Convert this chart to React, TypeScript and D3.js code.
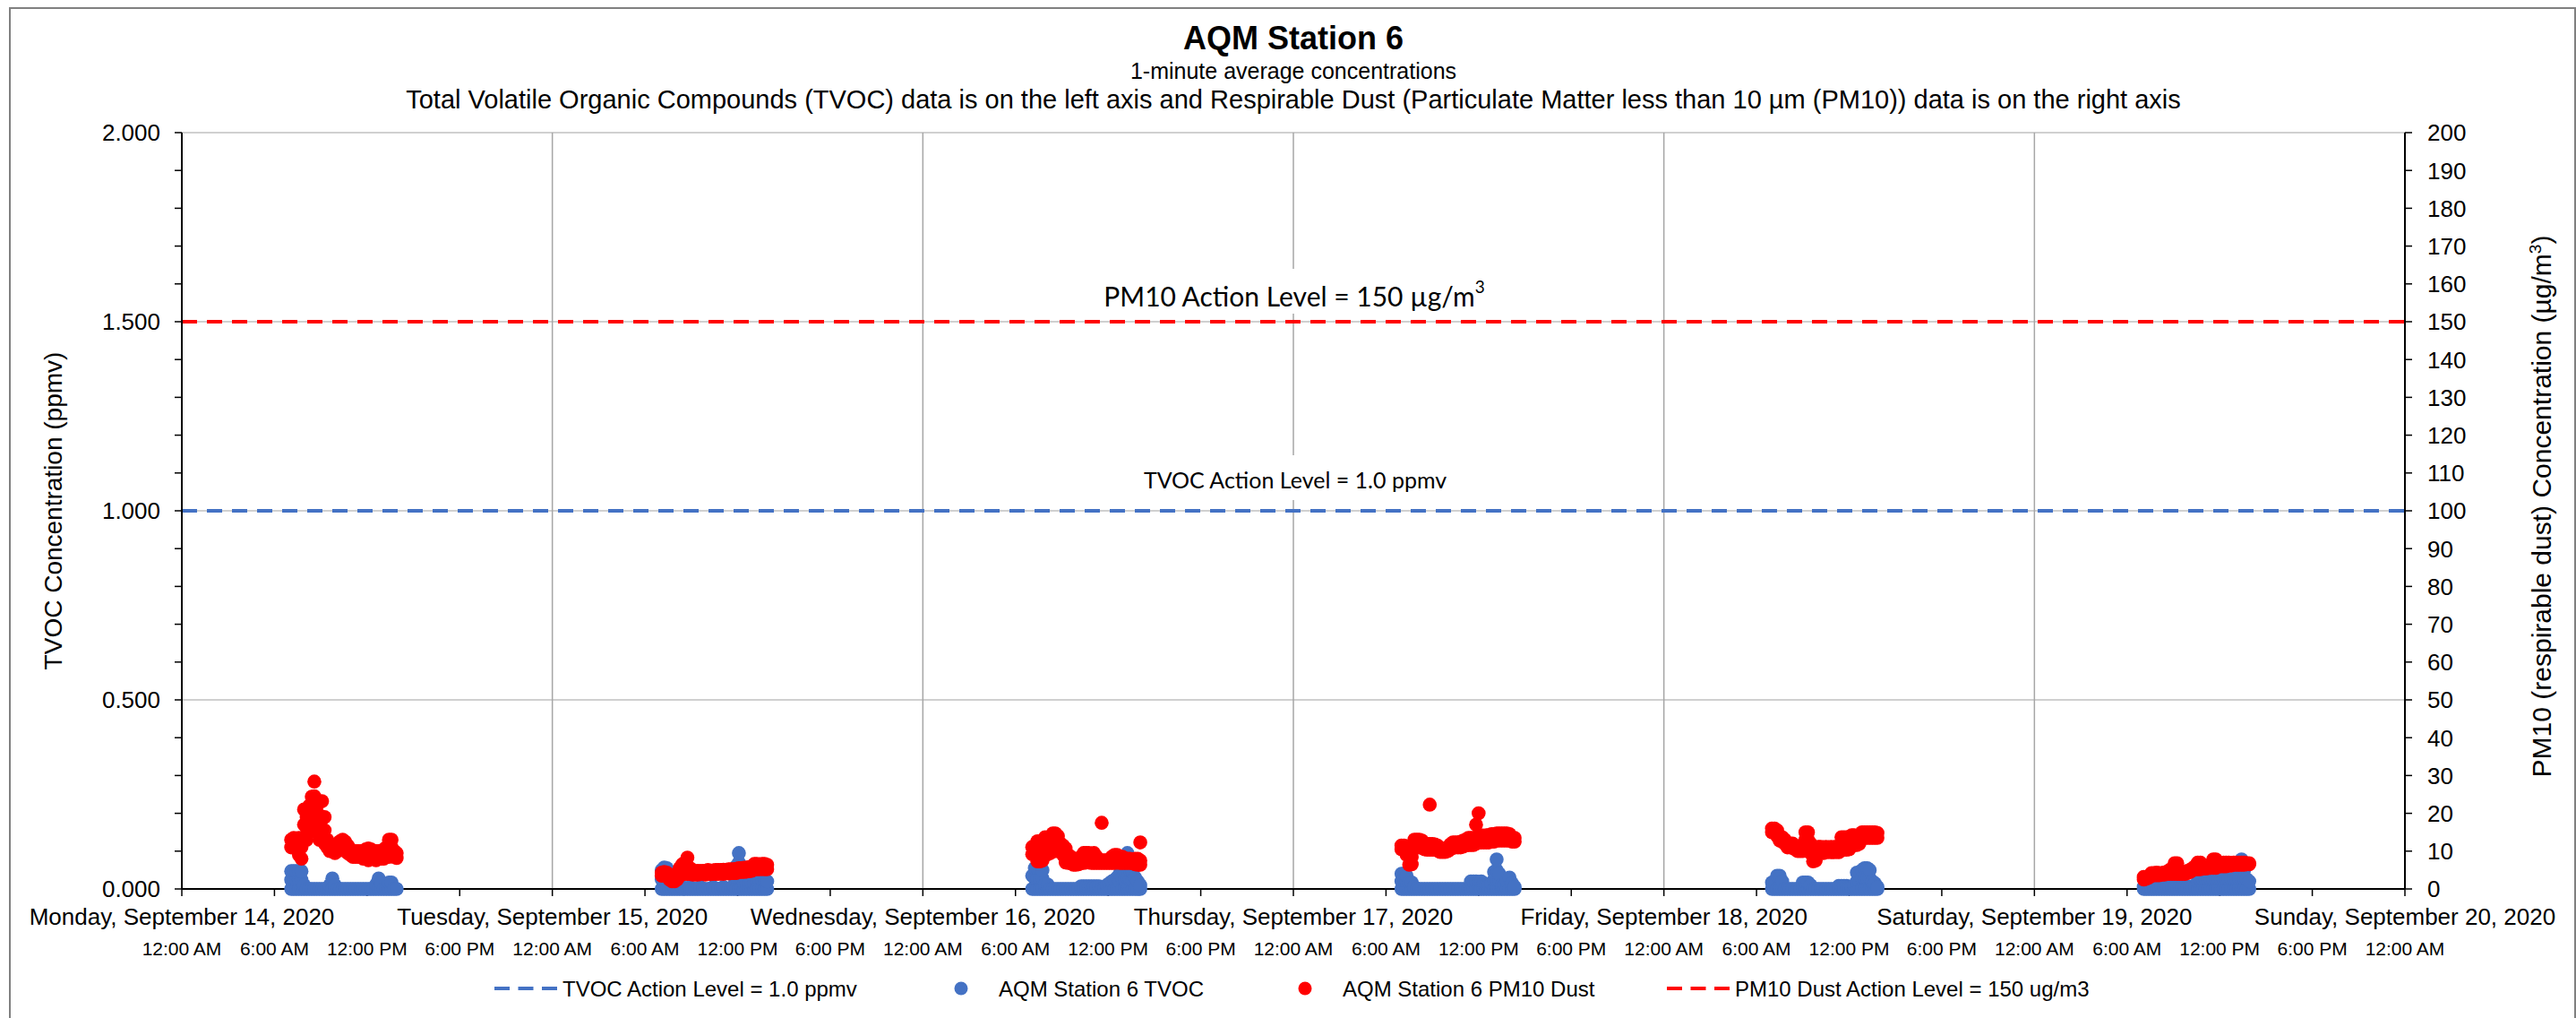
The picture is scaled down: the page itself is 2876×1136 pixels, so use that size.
import React from 'react'
import * as d3 from 'd3'

// readings are grouped in 10-minute slots; each slot lists the values seen in it
// first slot time per day, minutes after midnight
const dayOfMonth = [14, 15, 16, 17, 18, 19]
const firstSlot = [425, 425, 425, 420, 420, 425]

// TVOC (ppmv), left axis
const tvocSep14 = [[0, 0.024, 0.047], [0, 0.024, 0.047], [0, 0.024, 0.047], [0, 0.024, 0.047], [0, 0.024, 0.047], [0, 0.01], [0], [0], [0], [0], [0], [0], [0], [0], [0], [0, 0.01], [0, 0.028], [0, 0.01], [0], [0], [0], [0], [0], [0], [0], [0], [0], [0], [0], [0], [0], [0], [0], [0, 0.012], [0, 0.028], [0, 0.015], [0], [0], [0, 0.017], [0, 0.017], [0], [0]]
const tvocSep15 = [[0, 0.025, 0.05], [0, 0.03, 0.057], [0, 0.03, 0.055], [0, 0.025, 0.045], [0, 0.015], [0, 0.005], [0], [0], [0, 0.005], [0], [0], [0, 0.005], [0], [0], [0], [0, 0.005], [0], [0], [0], [0], [0, 0.005], [0], [0], [0], [0, 0.005], [0], [0], [0], [0, 0.01], [0, 0.03, 0.06], [0, 0.035, 0.07, 0.095], [0, 0.03, 0.06], [0, 0.015], [0, 0.015], [0, 0.015], [0, 0.015], [0, 0.015], [0, 0.024], [0, 0.024], [0, 0.024], [0, 0.024], [0, 0.02]]
const tvocSep16 = [[0, 0.035], [0, 0.028, 0.055], [0, 0.028, 0.055], [0, 0.028, 0.055], [0, 0.028, 0.05], [0, 0.012], [0, 0.012], [0], [0], [0], [0], [0], [0], [0], [0], [0], [0], [0], [0], [0, 0.007], [0, 0.007], [0, 0.007], [0, 0.007], [0, 0.007], [0, 0.007], [0, 0.007], [0, 0.007], [0], [0], [0, 0.01], [0, 0.015], [0, 0.02], [0, 0.024], [0, 0.03], [0, 0.02, 0.04], [0, 0.028, 0.055], [0, 0.025, 0.05, 0.075], [0, 0.03, 0.065, 0.095], [0, 0.025, 0.05, 0.07], [0, 0.022, 0.045], [0, 0.03], [0, 0.02], [0, 0.01]]
const tvocSep17 = [[0, 0.02, 0.04], [0, 0.02, 0.04], [0, 0.02, 0.035], [0, 0.017], [0, 0.017], [0, 0.005], [0], [0], [0], [0], [0], [0], [0], [0], [0], [0], [0], [0], [0], [0], [0], [0], [0], [0], [0], [0], [0], [0, 0.02], [0, 0.02], [0, 0.02], [0, 0.018], [0, 0.02], [0, 0.015], [0, 0.01], [0, 0.01], [0, 0.015], [0, 0.025, 0.045], [0, 0.025, 0.05, 0.078], [0, 0.02, 0.04], [0, 0.01], [0, 0.01], [0, 0.02], [0, 0.03], [0, 0.015], [0, 0.005]]
const tvocSep18 = [[0, 0.017], [0, 0.017], [0, 0.035], [0, 0.035], [0, 0.02], [0], [0], [0], [0], [0], [0], [0], [0, 0.017], [0, 0.017], [0, 0.017], [0, 0.01], [0], [0], [0], [0], [0], [0], [0], [0], [0], [0], [0, 0.008], [0, 0.008], [0, 0.008], [0, 0.008], [0, 0.005], [0, 0.005], [0, 0.01], [0, 0.02, 0.043], [0, 0.02, 0.043], [0, 0.028, 0.05], [0, 0.028, 0.055], [0, 0.028, 0.055], [0, 0.028, 0.05], [0, 0.02], [0, 0.015], [0, 0.005]]
const tvocSep19 = [[0, 0.006], [0, 0.006], [0, 0.006], [0, 0.006], [0, 0.006], [0, 0.006], [0, 0.006], [0, 0.006], [0, 0.006], [0, 0.006], [0, 0.006], [0, 0.006], [0, 0.006], [0, 0.006], [0, 0.006], [0, 0.006], [0, 0.006], [0, 0.006], [0, 0.006], [0, 0.006], [0, 0.006], [0, 0.02], [0, 0.026], [0, 0.026], [0, 0.026], [0, 0.026], [0, 0.026], [0, 0.026], [0, 0.026], [0, 0.026], [0, 0.026], [0, 0.026], [0, 0.026], [0, 0.026], [0, 0.026], [0, 0.026], [0, 0.026], [0, 0.026, 0.05], [0, 0.026, 0.05, 0.078], [0, 0.026, 0.05], [0, 0.026], [0, 0.02]]

// PM10 dust (ug/m3), right axis
const pm10Sep14 = [[11, 13], [11, 13.5], [11.5, 13], [9, 12, 13.5], [8, 11], [13, 17, 21], [13, 16, 19], [15.6, 19, 22], [16, 20, 24.4], [17, 21, 24.5, 28.4], [15, 19, 22], [13, 16, 19.5], [14, 18.5, 23.2], [12, 15.5, 19], [11, 13], [10, 11.4], [10, 11.5], [9.5, 11], [10, 12], [10.5, 12.6], [10.5, 13], [10, 12.5], [9.5, 11.5], [9, 10.5], [8.5, 10], [8.5, 10], [8.5, 10], [8.5, 10], [8, 9.5], [8, 10.5], [7.6, 10.7], [8, 10.5], [8, 10], [7.6, 10], [8, 10], [8, 10], [8, 10.5], [8.5, 11], [8.5, 11, 13], [9, 11, 13], [8.5, 10], [8.2, 9.5]]
const pm10Sep15 = [[3.5, 4.3], [3.5, 4.5], [3.5, 4.3], [2.5, 3.5], [2, 3.5], [2, 3], [2.5, 4], [3.5, 5.5], [4, 6.5], [4, 5.5, 7], [4, 6, 8.3], [4, 5.5], [3.8, 4.7], [3.8, 4.7], [3.8, 4.8], [3.9, 4.7], [4, 4.8], [3.8, 4.7], [4, 5], [3.9, 4.8], [4, 4.9], [4, 5], [4, 5], [4.1, 5], [4, 5.1], [4.2, 5], [4.1, 5.2], [4.2, 5.2], [4.2, 5.2], [4.2, 5.3], [4.5, 5.5], [4.5, 5.5], [4.5, 5.6], [4.6, 5.6], [4.7, 5.8], [4.8, 6], [5.2, 6.6], [5.2, 6.6], [5.2, 6.5], [5.3, 6.6], [5.2, 6.6], [5.2, 6.4]]
const pm10Sep16 = [[9.2, 11.1], [9.5, 11], [7.3, 10, 12.6], [7.3, 10, 12.6], [7.5, 10, 12], [9.2, 11.5, 13.7], [9.2, 11.5, 13.5], [9.5, 12, 13.7], [10, 12.5, 14.7], [10, 12.5, 14.7], [10, 12.5, 14], [10, 12], [9, 11.5], [7, 9, 10.7], [6.9, 9], [6.9, 8.5], [6.4, 7.6], [6.4, 7.6], [6.5, 7.8], [6.9, 8.5], [6.9, 9.5], [7, 9.5], [7, 9.5], [6.9, 9], [6.9, 9.5], [6.9, 8.5], [6.9, 7.6], [6.9, 7.6, 17.5], [6.9, 7.6], [6.9, 7.6], [6.9, 7.8], [6.9, 8.5], [6.9, 9], [7, 9], [6.9, 8.5], [6.9, 8.5], [6.9, 8], [6.9, 8], [6.9, 8], [6.9, 7.8], [6.5, 8], [6.4, 8], [6.4, 7.5, 12.3]]
const pm10Sep17 = [[10.5, 11.5], [10.5, 11.5], [9, 11], [6.4, 8.8], [6.5, 8.5], [11, 13], [11, 13], [11, 13], [11, 12.8], [10.5, 12], [10.4, 11.9], [10.4, 11.9, 22.3], [10.4, 11.9], [10.4, 11.8], [10.2, 11.5], [9.8, 10.7], [9.8, 10.7], [9.8, 10.7], [10, 11], [10.5, 11.8], [11, 12.3], [11, 12.3], [11, 12.3], [11, 12.5], [11.2, 12.8], [11.5, 13], [11.6, 13.5], [11.6, 13.5], [11.6, 13.5], [12, 13.5, 17], [12.3, 14.2, 20], [12.3, 14.2], [12.3, 14], [12.3, 14.2], [12.3, 14.2], [12.5, 14.5], [12.5, 14.5], [12.8, 14.7], [12.8, 14.7], [12.8, 14.7], [12.8, 14.7], [12.8, 14.7], [12.8, 14.5], [12.5, 13.5], [12.5, 13.5]]
const pm10Sep18 = [[15, 16], [15, 16], [14, 15.5], [12.8, 13.7], [12.5, 13.7], [12, 13], [11, 12], [11, 12], [11, 12], [10.5, 11.5], [10, 10.7], [10, 10.7], [10, 11], [11, 13, 15], [11, 13, 15], [9.5, 12], [7.3, 9.5], [7.5, 10], [9.7, 11.1], [9.7, 11.1], [9.5, 11], [9.7, 11.1], [9.8, 11], [9.7, 11.1], [9.7, 11], [9.8, 11.2], [9.7, 11.1], [10.4, 12, 13.7], [10.4, 12, 13.7], [10.4, 12, 13.7], [10.5, 12.5], [11.6, 14.2], [11.6, 14.2], [11.6, 14], [12, 14.2], [13.5, 15], [13.5, 15], [13.5, 15], [13.5, 15], [13.5, 15], [13.5, 15], [13.5, 14.8]]
const pm10Sep19 = [[2.5, 3.2], [2.7, 3.2], [3, 3.5], [3.5, 4.2], [3.6, 4.2], [3.6, 4.3], [3.6, 4.2], [3.8, 4.2], [3.8, 4.4], [4, 4.5], [4, 5], [4, 5.2], [4, 5.5, 6.8], [4, 5.5, 6.8], [4, 5], [4, 4.5], [4, 4.5], [4.2, 4.8], [4.5, 5], [5, 5.5], [5.2, 6], [5.2, 7], [5.2, 7], [5.4, 5.8], [5.4, 6], [5.5, 6], [5.6, 6.5], [5.6, 7.8], [5.6, 7.8], [6, 6.8], [6, 6.8], [6, 7], [6, 7], [6.2, 7], [6.2, 6.8], [6.4, 7], [6.4, 7], [6.4, 7], [6.4, 7], [6.4, 7], [6.5, 6.8], [6.5, 6.8]]

const tvocDays = [tvocSep14, tvocSep15, tvocSep16, tvocSep17, tvocSep18, tvocSep19]
const pm10Days = [pm10Sep14, pm10Sep15, pm10Sep16, pm10Sep17, pm10Sep18, pm10Sep19]

const tvocActionLevel = 1.0
const pm10ActionLevel = 150

const legendLabels = [
  'TVOC Action Level = 1.0 ppmv',
  'AQM Station 6 TVOC',
  'AQM Station 6 PM10 Dust',
  'PM10 Dust Action Level = 150 ug/m3',
]

const BLUE = '#4472C4'
const RED = '#FF0000'
const FONT = "'Liberation Sans', Arial, sans-serif"
const NOTE_FONT = "Lato, 'Open Sans', sans-serif"

const W = 2876
const H = 1136
const plot = {l: 203, r: 2685, t: 148, b: 992}

const toPoints = (days) =>
  days.flatMap((slots, d) =>
    slots.flatMap((vals, i) =>
      vals.map((v) => ({
        t: new Date(2020, 8, dayOfMonth[d], 0, firstSlot[d] + 10 * i),
        v,
      }))
    )
  )

const App = () => {
  const x = d3
    .scaleTime()
    .domain([new Date(2020, 8, 14), new Date(2020, 8, 20)])
    .range([plot.l, plot.r])
  const yL = d3.scaleLinear().domain([0, 2]).range([plot.b, plot.t])
  const yR = d3.scaleLinear().domain([0, 200]).range([plot.b, plot.t])

  const leftTicks = d3.range(0, 21).map((i) => i / 10)
  const leftLabels = [0, 0.5, 1, 1.5, 2]
  const rightTicks = d3.range(0, 201, 10)
  const gridVals = [0.5, 1, 1.5, 2]
  const hourTicks = d3.timeHour.every(6).range(x.domain()[0], d3.timeHour.offset(x.domain()[1], 1))
  const dayTicks = d3.timeDay.range(x.domain()[0], d3.timeDay.offset(x.domain()[1], 1))
  const fmtTime = d3.timeFormat('%-I:%M %p')
  const fmtDay = d3.timeFormat('%A, %B %-d, %Y')
  const fmtL = d3.format('.3f')

  const tvocPts = toPoints(tvocDays)
  const pm10Pts = toPoints(pm10Days)
  const midX = (plot.l + plot.r) / 2
  const midY = (plot.t + plot.b) / 2

  return (
    <svg
      width={W}
      height={H}
      style={{position: 'absolute', left: 0, top: 0, display: 'block', background: '#fff'}}
      fontFamily={FONT}
    >
      <rect x={0} y={0} width={W} height={H} fill="#fff" />
      <rect x={11} y={9} width={2864} height={1200} fill="none" stroke="#808080" strokeWidth={2} />

      {/* titles */}
      <text x={midX} y={55} textAnchor="middle" fontSize={36} fontWeight="bold">AQM Station 6</text>
      <text x={midX} y={88} textAnchor="middle" fontSize={25}>1-minute average concentrations</text>
      <text x={midX} y={121} textAnchor="middle" fontSize={29}>
        Total Volatile Organic Compounds (TVOC) data is on the left axis and Respirable Dust (Particulate Matter less than 10 µm (PM10)) data is on the right axis
      </text>

      {/* gridlines */}
      {gridVals.map((v) => (
        <line key={'g' + v} x1={plot.l} x2={plot.r} y1={yL(v)} y2={yL(v)} stroke="#d0d0d0" strokeWidth={2} />
      ))}
      {dayTicks.slice(1, -1).map((d) => (
        <line key={'vg' + d.getTime()} x1={x(d)} x2={x(d)} y1={plot.t} y2={plot.b} stroke="#a6a6a6" strokeWidth={1.5} />
      ))}

      {/* annotation boxes */}
      <rect x={1222} y={300} width={446} height={50} fill="#fff" />
      <rect x={1280} y={508} width={335} height={50} fill="#fff" />
      <text x={1445} y={330} textAnchor="middle" dominantBaseline="central" fontSize={30} fontFamily={NOTE_FONT}>
        PM10 Action Level = 150 µg/m<tspan dy={-11} fontSize={19}>3</tspan>
      </text>
      <text x={1446} y={535} textAnchor="middle" dominantBaseline="central" fontSize={25} fontFamily={NOTE_FONT}>
        TVOC Action Level = 1.0 ppmv
      </text>

      {/* action levels */}
      <line x1={plot.l} x2={plot.r} y1={yL(tvocActionLevel)} y2={yL(tvocActionLevel)} stroke={BLUE} strokeWidth={4} strokeDasharray="17 11" />
      <line x1={plot.l} x2={plot.r} y1={yR(pm10ActionLevel)} y2={yR(pm10ActionLevel)} stroke={RED} strokeWidth={4} strokeDasharray="17 11" />

      {/* axes */}
      <line x1={plot.l} x2={plot.l} y1={plot.t} y2={plot.b} stroke="#000" strokeWidth={2} />
      <line x1={plot.r} x2={plot.r} y1={plot.t} y2={plot.b} stroke="#000" strokeWidth={2} />
      <line x1={plot.l} x2={plot.r} y1={plot.b} y2={plot.b} stroke="#000" strokeWidth={2} />
      {leftTicks.map((v) => (
        <line key={'lt' + v} x1={plot.l - 8} x2={plot.l} y1={yL(v)} y2={yL(v)} stroke="#000" strokeWidth={1.5} />
      ))}
      {leftLabels.map((v) => (
        <text key={'ll' + v} x={179} y={yL(v)} dy="0.36em" textAnchor="end" fontSize={26}>{fmtL(v)}</text>
      ))}
      {rightTicks.map((v) => (
        <g key={'rt' + v}>
          <line x1={plot.r} x2={plot.r + 8} y1={yR(v)} y2={yR(v)} stroke="#000" strokeWidth={1.5} />
          <text x={2710} y={yR(v)} dy="0.36em" fontSize={26}>{v}</text>
        </g>
      ))}
      {hourTicks.map((d) => (
        <g key={'ht' + d.getTime()}>
          <line x1={x(d)} x2={x(d)} y1={plot.b} y2={plot.b + 8} stroke="#000" strokeWidth={1.5} />
          <text x={x(d)} y={1066} textAnchor="middle" fontSize={21}>{fmtTime(d)}</text>
        </g>
      ))}
      {dayTicks.map((d) => (
        <text key={'dl' + d.getTime()} x={x(d)} y={1032} textAnchor="middle" fontSize={26}>{fmtDay(d)}</text>
      ))}

      <text transform={`translate(69,${midY}) rotate(-90)`} textAnchor="middle" fontSize={28}>
        TVOC Concentration (ppmv)
      </text>
      <text transform={`translate(2848,${midY - 5}) rotate(-90)`} textAnchor="middle" fontSize={30}>
        PM10 (respirable dust) Concentration (µg/m<tspan dy={-11} fontSize={19}>3</tspan><tspan dy={11}>)</tspan>
      </text>

      {/* data */}
      <g fill={BLUE}>
        {tvocPts.map((p, i) => (
          <circle key={'b' + i} cx={x(p.t)} cy={yL(p.v)} r={7.8} />
        ))}
      </g>
      <g fill={RED}>
        {pm10Pts.map((p, i) => (
          <circle key={'r' + i} cx={x(p.t)} cy={yR(p.v)} r={7.8} />
        ))}
      </g>

      {/* legend */}
      <g fontSize={24}>
        <line x1={552} x2={622} y1={1103} y2={1103} stroke={BLUE} strokeWidth={4} strokeDasharray="17 9.5" />
        <text x={628} y={1103} dy="0.36em">{legendLabels[0]}</text>
        <circle cx={1073} cy={1103} r={7.5} fill={BLUE} />
        <text x={1115} y={1103} dy="0.36em">{legendLabels[1]}</text>
        <circle cx={1457} cy={1103} r={7.5} fill={RED} />
        <text x={1499} y={1103} dy="0.36em">{legendLabels[2]}</text>
        <line x1={1861} x2={1931} y1={1103} y2={1103} stroke={RED} strokeWidth={4} strokeDasharray="17 9.5" />
        <text x={1937} y={1103} dy="0.36em">{legendLabels[3]}</text>
      </g>
    </svg>
  )
}

export default App
